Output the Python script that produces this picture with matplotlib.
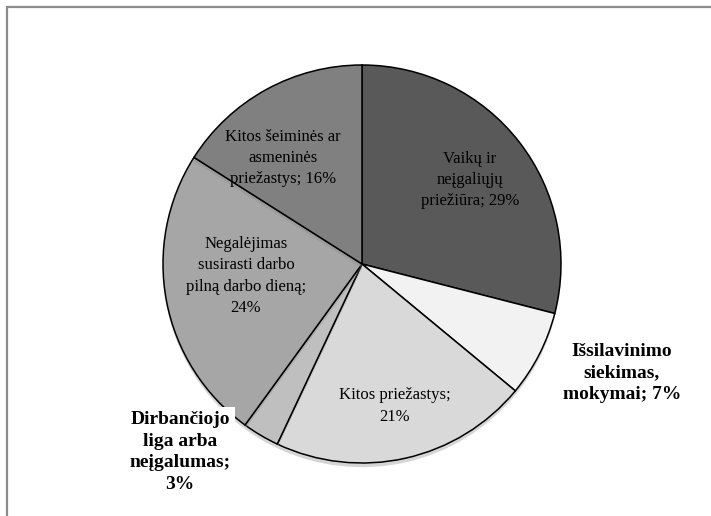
import matplotlib.pyplot as plt
import matplotlib.patheffects as pe
from matplotlib.patches import Rectangle

# Priežastys, kodėl dirbama ne visą darbo dieną (%)
labels = ['Vaikų ir\nneįgaliųjų\npriežiūra; 29%',
          'Išsilavinimo\nsiekimas,\nmokymai; 7%',
          'Kitos priežastys;\n21%',
          'Dirbančiojo\nliga arba\nneįgalumas;\n3%',
          'Negalėjimas\nsusirasti darbo\npilną darbo dieną;\n24%',
          'Kitos šeiminės ar\nasmeninės\npriežastys; 16%']
values = [29, 7, 21, 3, 24, 16]
colors = ['#595959', '#f2f2f2', '#d9d9d9', '#bfbfbf', '#a6a6a6', '#808080']

W, H = 711, 516
fig = plt.figure(figsize=(W / 100, H / 100), dpi=100)
ax = fig.add_axes([0, 0, 1, 1])

# ramelis
ax.add_patch(Rectangle((7, -5), W + 10, H - 7 + 5, fill=False,
                       edgecolor='#8c8c8c', linewidth=1.6))

wedges, _ = ax.pie(values, colors=colors, startangle=90, counterclock=False,
                   center=(362, H - 264), radius=199, frame=True,
                   wedgeprops=dict(edgecolor='black', linewidth=1.1))
for w in wedges:
    w.set_path_effects([pe.SimplePatchShadow(offset=(0, -3), shadow_rgbFace='#888888', alpha=0.35),
                        pe.Normal()])
ax.set_xlim(0, W)
ax.set_ylim(0, H)
ax.set_aspect('equal')
ax.axis('off')

serif = ['Liberation Serif', 'DejaVu Serif']

# vidinės etiketės
inner = [(0, 470, 180), (2, 395, 406), (4, 246, 276), (5, 283, 158)]
for i, x, y in inner:
    ax.text(x, H - y, labels[i], ha='center', va='center', family=serif,
            fontsize=12, linespacing=1.45, color='black')

# išorinės etiketės (paryškintos)
outer = [(1, 622, 373), (3, 180, 452)]
for i, x, y in outer:
    ax.text(x, H - y, labels[i], ha='center', va='center', family=serif,
            fontsize=14, fontweight='bold', linespacing=1.35, color='black',
            bbox=dict(facecolor='white', edgecolor='none', pad=3))

fig.savefig('out.png', dpi=100)
